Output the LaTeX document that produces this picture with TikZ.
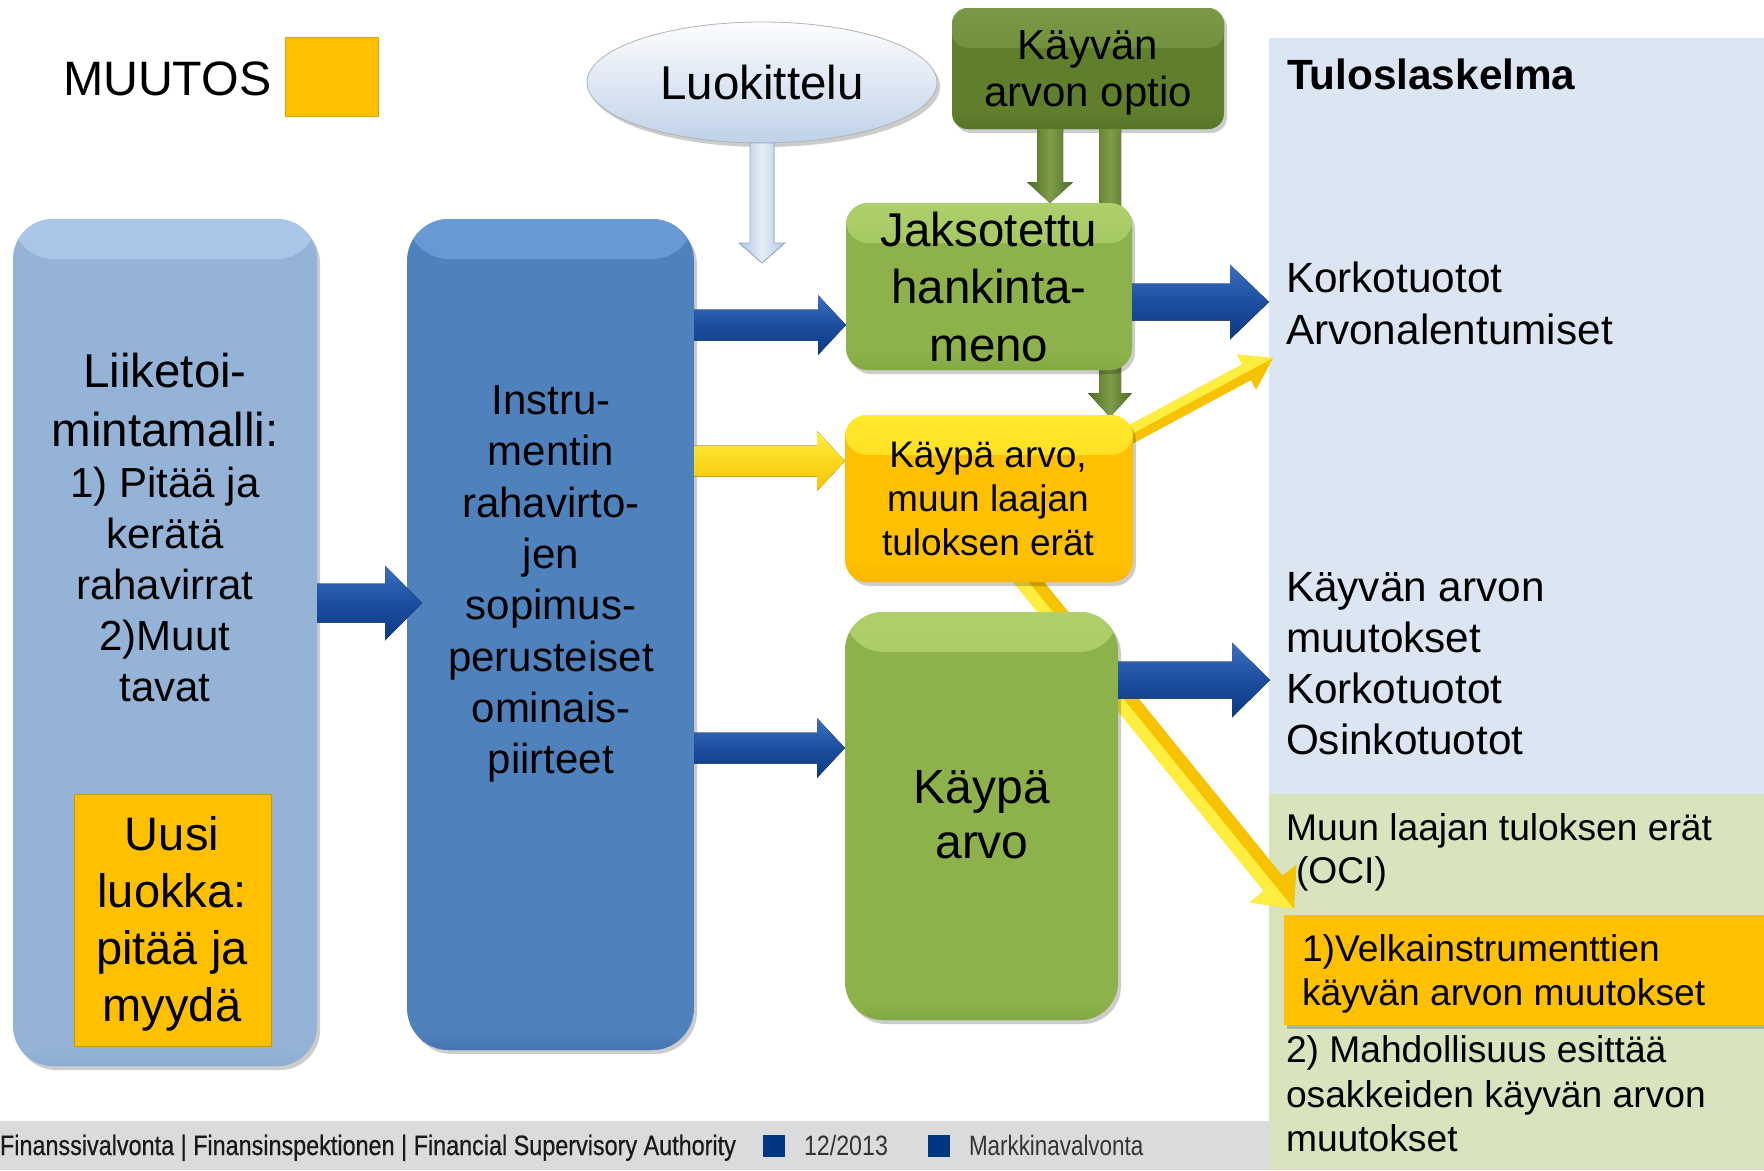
\documentclass[tikz,border=0pt]{standalone}
\usepackage{fontspec}
\setmainfont{Liberation Sans}
\usetikzlibrary{calc,shapes.geometric,shadows}

\definecolor{lbbase}{HTML}{95B3D7}
\definecolor{lbtop}{HTML}{AAC7EA}
\definecolor{lbbot}{HTML}{8DACD2}
\definecolor{mbbase}{HTML}{4F81BD}
\definecolor{mbtop}{HTML}{6A9AD6}
\definecolor{mbbot}{HTML}{4676B2}
\definecolor{lgbase}{HTML}{8DB24C}
\definecolor{lgtop}{HTML}{ADD06C}
\definecolor{lgbot}{HTML}{84A844}
\definecolor{dgbase}{HTML}{5F7F2D}
\definecolor{dgtop}{HTML}{7A9A48}
\definecolor{dgbot}{HTML}{56752A}
\definecolor{orng}{HTML}{FFC000}
\definecolor{orntop}{HTML}{FFEA2E}
\definecolor{ornbot}{HTML}{F8B800}
\definecolor{panelblue}{HTML}{DCE6F2}
\definecolor{panelgreen}{HTML}{D7E4BD}
\definecolor{footgray}{HTML}{DADBDD}
\definecolor{footblue}{HTML}{003781}
\definecolor{arrtop}{HTML}{3C6FC0}
\definecolor{arrmid}{HTML}{1D4E9F}
\definecolor{arrbot}{HTML}{0A3982}
\definecolor{ylwlight}{HTML}{FFEE40}
\definecolor{ylwdark}{HTML}{F7C200}
\definecolor{skylight}{HTML}{E6EEF8}
\definecolor{skyedge}{HTML}{AFC6E3}
\definecolor{dgdark}{HTML}{4E6B24}
\definecolor{dglight}{HTML}{7E9E4A}

\newcommand\setfs[2]{\fontsize{#1}{#2}\selectfont}

% block arrow from #2 to #3: shaft half width #4, head half width #5, head length #6
\newcommand\blkarrow[6][]{%
  \coordinate (ba-base) at ($(#3)!#6!(#2)$);
  \fill[#1] ($(#2)!#4!90:(#3)$) -- ($(ba-base)!#4!90:(#3)$) -- ($(ba-base)!#5!90:(#3)$) -- (#3)
     -- ($(ba-base)!#5!-90:(#3)$) -- ($(ba-base)!#4!-90:(#3)$) -- ($(#2)!#4!-90:(#3)$) -- cycle;
}
% one side (#7 = 90 or -90) of such an arrow, used as a highlight
\newcommand\blkhalf[7][]{%
  \coordinate (bh-base) at ($(#3)!#6!(#2)$);
  \fill[#1] ($(#2)!#4!#7:(#3)$) -- ($(bh-base)!#4!#7:(#3)$) -- ($(bh-base)!#5!#7:(#3)$) -- (#3)
     -- (bh-base) -- (#2) -- cycle;
}

\tikzset{
  bevel/.style n args={3}{fill=#2, path picture={
      \shade[top color=#1, bottom color=#2] (path picture bounding box.north west)
            rectangle ([yshift=-40pt]path picture bounding box.north east);
      \shade[top color=#2, bottom color=#3] ([yshift=20pt]path picture bounding box.south west)
            rectangle (path picture bounding box.south east);}},
  softshadow/.style={drop shadow={opacity=0.2, shadow xshift=3pt, shadow yshift=-4pt, fill=black}},
  bluearr/.style={top color=arrtop, bottom color=arrbot, middle color=arrmid},
  yelarr/.style={top color=ylwlight, bottom color=ylwdark},
  greenarr/.style={left color=dgdark, right color=dgdark, middle color=dglight},
  skyarr/.style={left color=skyedge, right color=skyedge, middle color=skylight, draw=skyedge!85!black, line width=0.8pt},
  boxlabel/.style={align=center, text=black},
  sidelabel/.style={align=left, anchor=west, text=black},
  footfont/.style={font=\setfs{28}{30}},
}

\begin{document}
\begin{tikzpicture}[x=1pt, y=-1pt, every node/.style={inner sep=0pt, outer sep=0pt}]
\useasboundingbox (0,0) rectangle (1764,1170);

% income statement panels and footer band
\node[fill=panelblue, minimum width=495pt, minimum height=756pt, anchor=north west] (tulos) at (1269,38) {};
\node[fill=panelgreen, minimum width=495pt, minimum height=376pt, anchor=north west] (ocipanel) at (1269,794) {};
\node[fill=footgray, minimum width=1269pt, minimum height=49pt, anchor=north west] (foot) at (0,1121) {};
\node[fill=orng, softshadow, minimum width=480pt, minimum height=110pt, anchor=north west] (velk) at (1284,915) {};

% legend
\node[anchor=base west, font=\setfs{48.3}{57}] (muutos) at (63,95) {MUUTOS};
\node[fill=orng, draw=orng!85!black, line width=0.6pt, minimum width=93pt, minimum height=79pt, anchor=north west] (mkey) at (285,37) {};

% option box, and the places of the boxes that arrows pass behind
\node[rounded corners=16pt, bevel={dgtop}{dgbase}{dgbot}, softshadow, minimum width=272pt, minimum height=121pt, anchor=north west] (optio) at (952,8) {};
\node[minimum width=288pt, minimum height=167pt, anchor=north west] (ociref) at (845,415) {};

% arrows drawn behind the boxes
\coordinate (g2s) at (optio.south -| 1110,0);
\coordinate (g2e) at ($(ociref.north -| 1110,0)+(0,2)$);
\blkarrow[greenarr]{g2s}{g2e}{11pt}{22pt}{24pt}

\coordinate (y1s) at ($(ociref.north east)+(-18,28)$);
\coordinate (y1e) at ($(tulos.west |- 0,358)+(4,0)$);
\blkarrow[fill=ylwdark]{y1s}{y1e}{9pt}{20pt}{30pt}
\blkhalf[fill=ylwlight]{y1s}{y1e}{9pt}{20pt}{30pt}{90}

\coordinate (y2s) at ($(ociref.south)+(34,-7)$);
\coordinate (y2e) at ($(ocipanel.north west)+(25,115)$);
\blkarrow[fill=ylwdark]{y2s}{y2e}{12pt}{30pt}{33pt}
\blkhalf[fill=ylwlight]{y2s}{y2e}{12pt}{30pt}{33pt}{-90}

% classification ellipse
\node[ellipse, minimum width=350pt, minimum height=121pt, top color=white!90!skylight, bottom color=skyedge!80!white,
      draw=black!30, line width=0.8pt, softshadow, font=\setfs{47.5}{57}] (luok) at (762,82.5) {\raisebox{-2pt}{Luokittelu}};

% measurement boxes
\node[rounded corners=22pt, bevel={lgtop}{lgbase}{lgbot}, softshadow, minimum width=286pt, minimum height=167pt, anchor=north west] (jaks) at (846,203) {};
\node[rounded corners=22pt, bevel={orntop}{orng}{ornbot}, softshadow, minimum width=288pt, minimum height=167pt, anchor=north west] (kavoci) at (845,415) {};
\node[rounded corners=38pt, bevel={lgtop}{lgbase}{lgbot}, softshadow, minimum width=273pt, minimum height=408pt, anchor=north west] (kavo) at (845,612) {};

% business model and cash flow boxes
\node[rounded corners=40pt, bevel={lbtop}{lbbase}{lbbot}, softshadow, minimum width=304pt, minimum height=847pt, anchor=north west] (lb) at (13,219) {};
\node[fill=orng, draw=orng!80!black, line width=0.6pt, minimum width=197pt, minimum height=252pt, anchor=north west] (uusi) at (74,794) {};
\node[rounded corners=42pt, bevel={mbtop}{mbbase}{mbbot}, softshadow, minimum width=287pt, minimum height=831pt, anchor=north west] (mb) at (407,219) {};

% arrows on top of the boxes
\coordinate (a1s) at (lb.east |- 0,603);
\coordinate (a1e) at ($(mb.west |- 0,603)+(15,0)$);
\blkarrow[bluearr]{a1s}{a1e}{19.5pt}{37.5pt}{37pt}

\coordinate (a2s) at (mb.east |- 0,325);
\coordinate (a2e) at (jaks.west |- 0,325);
\blkarrow[bluearr]{a2s}{a2e}{15.5pt}{30pt}{28pt}

\coordinate (a3s) at (mb.east |- 0,461);
\coordinate (a3e) at (kavoci.west |- 0,461);
\blkarrow[yelarr]{a3s}{a3e}{15.5pt}{30pt}{28pt}

\coordinate (a4s) at (mb.east |- 0,748);
\coordinate (a4e) at (kavo.west |- 0,748);
\blkarrow[bluearr]{a4s}{a4e}{15.5pt}{30pt}{28pt}

\coordinate (a5s) at (jaks.east |- 0,302);
\coordinate (a5e) at (tulos.west |- 0,302);
\blkarrow[bluearr]{a5s}{a5e}{18.5pt}{37.5pt}{39pt}

\coordinate (a6s) at (kavo.east |- 0,680);
\coordinate (a6e) at ($(tulos.west |- 0,680)+(1,0)$);
\blkarrow[bluearr]{a6s}{a6e}{18.5pt}{37.5pt}{38pt}

\coordinate (l1s) at (luok.south);
\coordinate (l1e) at (luok.south |- 0,263);
\blkarrow[skyarr]{l1s}{l1e}{12pt}{23pt}{20pt}

\coordinate (g1s) at (optio.south -| 1050,0);
\coordinate (g1e) at (jaks.north -| 1050,0);
\blkarrow[greenarr]{g1s}{g1e}{13pt}{23pt}{21pt}

% box texts
\node[boxlabel, font=\setfs{42}{47}] (optiotext) at (1088,72.5) {Käyvän\\arvon optio};
\node[boxlabel, font=\setfs{47.5}{57.5}] (jakstext) at (989,287) {Jaksotettu\\hankinta-\\meno};
\node[boxlabel, font=\setfs{37}{44.3}] (kavocitext) at (988,499) {Käypä arvo,\\muun laajan\\tuloksen erät};
\node[boxlabel, font=\setfs{48}{55}] (kavotext) at (982,815) {Käypä\\arvo};
\node[boxlabel, font=\setfs{42}{51}] (lbtext) at (165,527.7)
  {{\setfs{47.5}{51}Liiketoi-}\\[8pt]{\setfs{47.5}{51}mintamalli:}\\1) Pitää ja\\kerätä\\rahavirrat\\2)Muut\\tavat};
\node[boxlabel, font=\setfs{47}{57}] (uusitext) at (172,923.5) {Uusi\\luokka:\\pitää ja\\myydä};
\node[boxlabel, font=\setfs{42}{51.3}] (mbtext) at (551,584)
  {Instru-\\mentin\\rahavirto-\\jen\\sopimus-\\perusteiset\\ominais-\\piirteet};

% income statement texts
\node[anchor=base west, font=\bfseries\setfs{42.3}{50}] (tulostitle) at (1287,89) {Tuloslaskelma};
\node[sidelabel, font=\setfs{42.3}{52}] (korko1) at (1286,303.6) {Korkotuotot\\Arvonalentumiset};
\node[sidelabel, font=\setfs{42.3}{50.7}] (kayvan) at (1286,663.6) {Käyvän arvon\\muutokset\\Korkotuotot\\Osinkotuotot};
\node[sidelabel, font=\setfs{37.2}{43}] (ocitext) at (1286,852) {Muun laajan tuloksen erät\\\hspace*{10pt}(OCI)};
\node[sidelabel, font=\setfs{37.2}{44}] (velktext) at (1302,973.5) {1)Velkainstrumenttien\\käyvän arvon muutokset};
\node[sidelabel, font=\setfs{37.2}{44.5}] (mahd) at (1286,1094) {2) Mahdollisuus esittää\\osakkeiden käyvän arvon\\muutokset};

% footer
\node[anchor=base west, footfont, text=black!90] (fsa) at (0,1155)
  {\scalebox{0.835}[1]{\addfontfeatures{FakeBold=0.6}Finanssivalvonta | Finansinspektionen | Financial Supervisory Authority}};
\node[fill=footblue, minimum width=22pt, minimum height=22pt, anchor=north west] (sq1) at (763,1135) {};
\node[anchor=base west, footfont, text=black!80] (date) at (804,1155) {\scalebox{0.83}[1]{12/2013}};
\node[fill=footblue, minimum width=22pt, minimum height=22pt, anchor=north west] (sq2) at (928,1135) {};
\node[anchor=base west, footfont, text=black!80] (dept) at (969,1155) {\scalebox{0.8}[1]{Markkinavalvonta}};
\end{tikzpicture}
\end{document}
